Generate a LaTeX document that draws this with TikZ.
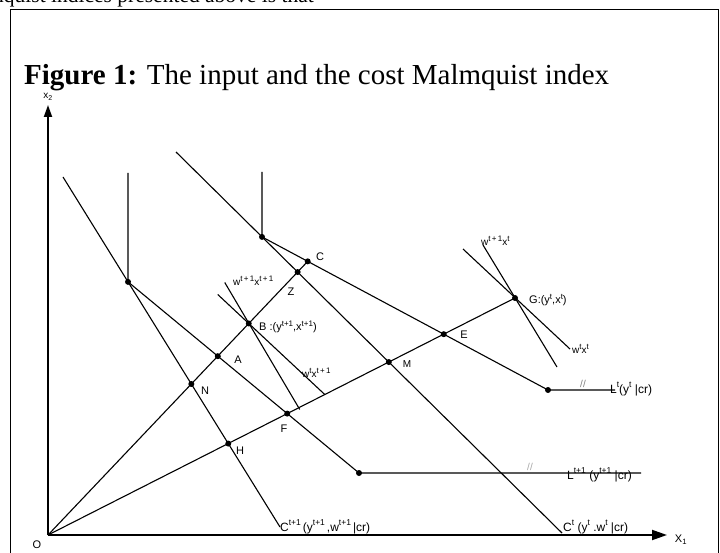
\documentclass[tikz,border=0pt]{standalone}
\usepackage{fontspec}
\setmainfont{Liberation Serif}
\newfontfamily\lab{Liberation Sans}
\usetikzlibrary{arrows.meta,calc}
\newcommand\su[1]{\raisebox{0.42em}{\fontsize{8}{8}\selectfont #1}}
\newcommand\sv[1]{\raisebox{0.5em}{\fontsize{8.5}{8.5}\selectfont #1}}
\begin{document}
\begin{tikzpicture}[x=1pt,y=-1pt,
  ln/.style={line width=1.1pt},
  axis/.style={line width=1.9pt},
  dot/.style={circle,fill=black,inner sep=0pt,minimum size=6pt},
  lbl/.style={font=\lab\fontsize{11}{12}\selectfont, inner sep=0pt},
  clbl/.style={font=\lab\fontsize{12}{13}\selectfont, inner sep=0pt},
  slbl/.style={font=\lab\fontsize{10}{11}\selectfont, inner sep=0pt},
  frame/.style={line width=0.9pt}]
\useasboundingbox (0,0) rectangle (720,553);
% cut-off text above the frame
\node[anchor=base west, inner sep=0pt, font=\fontsize{21.5}{23}\selectfont] (toptext) at (-7,3) {nquist indices presented above is that};
% frame
\coordinate (fbl) at (10,560);
\coordinate (ftl) at (10,9.5);
\coordinate (ftr) at (718,9.5);
\coordinate (fbr) at (718,560);
\draw[frame] (fbl) -- (ftl) -- (ftr) -- (fbr);
% title
\node[anchor=base west, inner sep=0pt, font=\fontsize{29}{31}\selectfont] (title) at (24,85) {\textbf{Figure 1:} The input and the cost Malmquist index};
% axes
\coordinate (O) at (48,535);
\coordinate (ytip) at (48,105);
\coordinate (xtip) at (667,535);
\draw[axis, -{Triangle[length=12pt,width=8pt]}] (O) -- (ytip);
\draw[axis, -{Triangle[length=15pt,width=10pt]}] (O) -- (xtip);
\node[slbl] (x2) at (48,97) {x\textsubscript{2}};
\node[lbl] (olab) at (37,545) {O};
\node[lbl] (x1) at (681,540) {X\textsubscript{1}};
% base coordinates
\coordinate (Ct1a) at (63,177);
\coordinate (Ct1b) at (280,527);
\coordinate (Cta) at (176,152);
\coordinate (Ctb) at (562,533);
\coordinate (L1top) at (128,173);
\coordinate (P1) at (intersection of Ct1a--Ct1b and L1top--{128,300});
\coordinate (L1k) at (359,473);
\coordinate (L1end) at (641,473);
\coordinate (Lttop) at (262,172);
\coordinate (P2) at (intersection of Cta--Ctb and Lttop--{262,300});
\coordinate (Ltk) at (548,390);
\coordinate (Ltend) at (615,390);
\coordinate (Caux) at (308,261);
\coordinate (C) at (intersection of P2--Ltk and O--Caux);
\coordinate (G) at (515,298);
\coordinate (N) at (intersection of O--C and Ct1a--Ct1b);
\coordinate (A) at (intersection of O--C and P1--L1k);
\coordinate (B) at ($(O)!0.773!(C)$);
\coordinate (Z) at (intersection of O--C and Cta--Ctb);
\coordinate (H) at (intersection of O--G and Ct1a--Ct1b);
\coordinate (F) at (intersection of O--G and P1--L1k);
\coordinate (M) at (intersection of O--G and Cta--Ctb);
\coordinate (E) at (intersection of O--G and P2--Ltk);
% cost lines
\draw[ln] (Ct1a) -- (Ct1b);
\draw[ln] (Cta) -- (Ctb);
% isoquants
\draw[ln] (L1top) -- (P1) -- (L1k) -- (L1end);
\draw[ln] (Lttop) -- (P2) -- (Ltk) -- (Ltend);
% rays
\draw[ln] (O) -- (C);
\draw[ln] (O) -- (G);
% iso-cost lines at B and G
\coordinate (B1a) at ($(B)+(-24,-41)$);
\coordinate (B1b) at ($(B)+(51,86)$);
\coordinate (B2a) at ($(B)+(-31,-29)$);
\coordinate (B2b) at ($(B)+(76,71)$);
\draw[ln] (B1a) -- (B1b);
\draw[ln] (B2a) -- (B2b);
\coordinate (G1a) at ($(G)+(-32,-53)$);
\coordinate (G1b) at ($(G)+(42,69)$);
\coordinate (G2a) at ($(G)+(-52,-49)$);
\coordinate (G2b) at ($(G)+(55,51)$);
\draw[ln] (G1a) -- (G1b);
\draw[ln] (G2a) -- (G2b);
% dots
\foreach \p in {P1,P2,C,Z,B,A,N,H,F,M,E,G,L1k,Ltk}
  \node[dot] at (\p) {};
% point labels
\node[lbl] (Clab) at (320,257) {C};
\node[lbl] (Zlab) at (291,292) {Z};
\node[lbl, anchor=west] (Blab) at (259,327) {B :(y\su{t+1},x\su{t+1})};
\node[lbl] (Alab) at (238,360) {A};
\node[lbl] (Nlab) at (205,391) {N};
\node[lbl] (Hlab) at (240,451) {H};
\node[lbl] (Flab) at (284,429) {F};
\node[slbl] (Mlab) at (407,364) {M};
\node[lbl] (Elab) at (464,335) {E};
\node[lbl, anchor=west] (Glab) at (529,300) {G:(y\su{t},x\su{t})};
% iso-cost labels
\node[slbl, anchor=west] (wb1) at (233,281) {w\su{t\,+\,1}x\su{t\,+\,1}};
\node[slbl, anchor=west] (wb2) at (302,373) {w\su{t}x\su{t\,+\,1}};
\node[slbl, anchor=west] (wg1) at (481,241) {w\su{t\,+\,1}x\su{t}};
\node[slbl, anchor=west] (wg2) at (572,349) {w\su{t}x\su{t}};
% curve labels
\node[clbl, anchor=base west] (Ltlab) at (610,393) {L\sv{t}(y\sv{t} |cr)};
\node[clbl, anchor=base west] (L1lab) at (567,479) {L\sv{t+1} (y\sv{t+1} |cr)};
\node[clbl, anchor=base west] (C1lab) at (280,531) {C\sv{t+1}\,(y\sv{t+1}\,,w\sv{t+1}\,|cr)};
\node[clbl, anchor=base west] (Ctlab) at (563,531) {C\sv{t} (y\sv{t} .w\sv{t} |cr)};
% break marks
\node[slbl, text=gray] (brk1) at (583,384) {//};
\node[slbl, text=gray!70] (brk2) at (530,467) {//};
\end{tikzpicture}
\end{document}
